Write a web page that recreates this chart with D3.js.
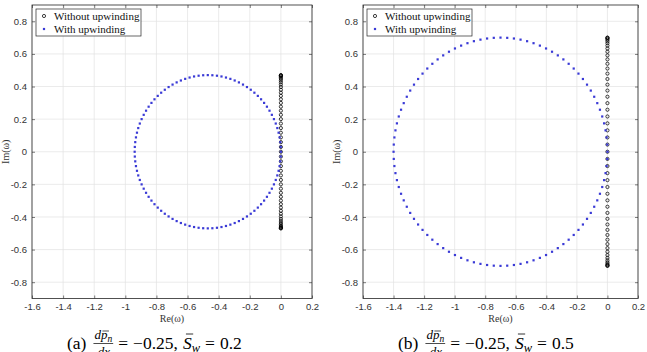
<!DOCTYPE html>
<html><head>
<meta charset="utf-8">
<script src="https://d3js.org/d3.v7.min.js"></script>
<style>
  body { margin: 0; background: #fff; }
  .tick text { font-family: "Liberation Sans", Arial, sans-serif; font-size: 9.5px; fill: #333; }
  .lbl { font-family: "Liberation Serif", serif; }
</style>
</head><body>
<script>
// ---- data ----
var xTicks = [-1.6, -1.4, -1.2, -1, -0.8, -0.6, -0.4, -0.2, 0, 0.2];
var yTicks = [-0.8, -0.6, -0.4, -0.2, 0, 0.2, 0.4, 0.6, 0.8];
var seriesNames = ["Without upwinding", "With upwinding"];
var panelLabels = ["a", "b"];
var dpdx = "\u22120.25";
var swValues = ["0.2", "0.5"];

// Im(omega) of the eigenvalues without upwinding (all sit on Re = 0)
var noUpwindA = [0.47,0.4691,0.4663,0.4617,0.4552,0.4470,0.4370,0.4253,0.4119,0.3968,0.3802,0.3621,0.3426,0.3217,0.2996,0.2763,0.2518,0.2264,0.2001,0.1730,0.1452,0.1169,0.0881,0.0589,0.0295,0,
  -0.0295,-0.0589,-0.0881,-0.1169,-0.1452,-0.1730,-0.2001,-0.2264,-0.2518,-0.2763,-0.2996,-0.3217,-0.3426,-0.3621,-0.3802,-0.3968,-0.4119,-0.4253,-0.4370,-0.4470,-0.4552,-0.4617,-0.4663,-0.4691,-0.47];
var noUpwindB = [0.7,0.6986,0.6945,0.6876,0.6780,0.6658,0.6509,0.6334,0.6134,0.5910,0.5663,0.5394,0.5103,0.4792,0.4462,0.4115,0.3751,0.3373,0.2981,0.2577,0.2163,0.1741,0.1312,0.0877,0.0440,0,
  -0.0440,-0.0877,-0.1312,-0.1741,-0.2163,-0.2577,-0.2981,-0.3373,-0.3751,-0.4115,-0.4462,-0.4792,-0.5103,-0.5394,-0.5663,-0.5910,-0.6134,-0.6334,-0.6509,-0.6658,-0.6780,-0.6876,-0.6945,-0.6986,-0.7];

// [Re, Im] of the eigenvalues with upwinding
var upwindA = [[0,0],[-0.0009,0.0295],[-0.0037,0.0589],[-0.0083,0.0881],[-0.0148,0.1169],[-0.0230,0.1452],[-0.0330,0.1730],[-0.0447,0.2001],[-0.0581,0.2264],[-0.0732,0.2518],[-0.0898,0.2763],[-0.1079,0.2996],[-0.1274,0.3217],[-0.1483,0.3426],[-0.1704,0.3621],[-0.1937,0.3802],[-0.2182,0.3968],[-0.2436,0.4119],[-0.2699,0.4253],[-0.2970,0.4370],[-0.3248,0.4470],[-0.3531,0.4552],[-0.3819,0.4617],[-0.4111,0.4663],[-0.4405,0.4691],[-0.47,0.47],
  [-0.4995,0.4691],[-0.5289,0.4663],[-0.5581,0.4617],[-0.5869,0.4552],[-0.6152,0.4470],[-0.6430,0.4370],[-0.6701,0.4253],[-0.6964,0.4119],[-0.7218,0.3968],[-0.7463,0.3802],[-0.7696,0.3621],[-0.7917,0.3426],[-0.8126,0.3217],[-0.8321,0.2996],[-0.8502,0.2763],[-0.8668,0.2518],[-0.8819,0.2264],[-0.8953,0.2001],[-0.9070,0.1730],[-0.9170,0.1452],[-0.9252,0.1169],[-0.9317,0.0881],[-0.9363,0.0589],[-0.9391,0.0295],[-0.94,0],
  [-0.9391,-0.0295],[-0.9363,-0.0589],[-0.9317,-0.0881],[-0.9252,-0.1169],[-0.9170,-0.1452],[-0.9070,-0.1730],[-0.8953,-0.2001],[-0.8819,-0.2264],[-0.8668,-0.2518],[-0.8502,-0.2763],[-0.8321,-0.2996],[-0.8126,-0.3217],[-0.7917,-0.3426],[-0.7696,-0.3621],[-0.7463,-0.3802],[-0.7218,-0.3968],[-0.6964,-0.4119],[-0.6701,-0.4253],[-0.6430,-0.4370],[-0.6152,-0.4470],[-0.5869,-0.4552],[-0.5581,-0.4617],[-0.5289,-0.4663],[-0.4995,-0.4691],[-0.47,-0.47],
  [-0.4405,-0.4691],[-0.4111,-0.4663],[-0.3819,-0.4617],[-0.3531,-0.4552],[-0.3248,-0.4470],[-0.2970,-0.4370],[-0.2699,-0.4253],[-0.2436,-0.4119],[-0.2182,-0.3968],[-0.1937,-0.3802],[-0.1704,-0.3621],[-0.1483,-0.3426],[-0.1274,-0.3217],[-0.1079,-0.2996],[-0.0898,-0.2763],[-0.0732,-0.2518],[-0.0581,-0.2264],[-0.0447,-0.2001],[-0.0330,-0.1730],[-0.0230,-0.1452],[-0.0148,-0.1169],[-0.0083,-0.0881],[-0.0037,-0.0589],[-0.0009,-0.0295]];
var upwindB = [[0,0],[-0.0014,0.0440],[-0.0055,0.0877],[-0.0124,0.1312],[-0.0220,0.1741],[-0.0342,0.2163],[-0.0491,0.2577],[-0.0666,0.2981],[-0.0866,0.3373],[-0.1090,0.3751],[-0.1337,0.4115],[-0.1606,0.4462],[-0.1897,0.4792],[-0.2208,0.5103],[-0.2538,0.5394],[-0.2885,0.5663],[-0.3249,0.5910],[-0.3627,0.6134],[-0.4019,0.6334],[-0.4423,0.6509],[-0.4837,0.6658],[-0.5259,0.6780],[-0.5688,0.6876],[-0.6123,0.6945],[-0.6560,0.6986],[-0.7,0.7],
  [-0.7440,0.6986],[-0.7877,0.6945],[-0.8312,0.6876],[-0.8741,0.6780],[-0.9163,0.6658],[-0.9577,0.6509],[-0.9981,0.6334],[-1.0373,0.6134],[-1.0751,0.5910],[-1.1115,0.5663],[-1.1462,0.5394],[-1.1792,0.5103],[-1.2103,0.4792],[-1.2394,0.4462],[-1.2663,0.4115],[-1.2910,0.3751],[-1.3134,0.3373],[-1.3334,0.2981],[-1.3509,0.2577],[-1.3658,0.2163],[-1.3780,0.1741],[-1.3876,0.1312],[-1.3945,0.0877],[-1.3986,0.0440],[-1.4,0],
  [-1.3986,-0.0440],[-1.3945,-0.0877],[-1.3876,-0.1312],[-1.3780,-0.1741],[-1.3658,-0.2163],[-1.3509,-0.2577],[-1.3334,-0.2981],[-1.3134,-0.3373],[-1.2910,-0.3751],[-1.2663,-0.4115],[-1.2394,-0.4462],[-1.2103,-0.4792],[-1.1792,-0.5103],[-1.1462,-0.5394],[-1.1115,-0.5663],[-1.0751,-0.5910],[-1.0373,-0.6134],[-0.9981,-0.6334],[-0.9577,-0.6509],[-0.9163,-0.6658],[-0.8741,-0.6780],[-0.8312,-0.6876],[-0.7877,-0.6945],[-0.7440,-0.6986],[-0.7,-0.7],
  [-0.6560,-0.6986],[-0.6123,-0.6945],[-0.5688,-0.6876],[-0.5259,-0.6780],[-0.4837,-0.6658],[-0.4423,-0.6509],[-0.4019,-0.6334],[-0.3627,-0.6134],[-0.3249,-0.5910],[-0.2885,-0.5663],[-0.2538,-0.5394],[-0.2208,-0.5103],[-0.1897,-0.4792],[-0.1606,-0.4462],[-0.1337,-0.4115],[-0.1090,-0.3751],[-0.0866,-0.3373],[-0.0666,-0.2981],[-0.0491,-0.2577],[-0.0342,-0.2163],[-0.0220,-0.1741],[-0.0124,-0.1312],[-0.0055,-0.0877],[-0.0014,-0.0440]];

var noUpwind = [noUpwindA, noUpwindB];
var upwind = [upwindA, upwindB];

// ---- layout ----
var width = 647, height = 352;
var plotTop = 5, plotBottom = 298.5;
var panels = [{left: 32, right: 312}, {left: 363, right: 638}];

var svg = d3.select("body").append("svg")
    .attr("width", width)
    .attr("height", height);

function fmt(d) {
    return d === 0 ? "0" : String(+d.toFixed(1));
}

function drawPanel(i) {
    var p = panels[i];
    var x = d3.scaleLinear().domain([-1.6, 0.2]).range([p.left, p.right]);
    var y = d3.scaleLinear().domain([-0.9, 0.9]).range([plotBottom, plotTop]);
    var g = svg.append("g");

    // grid
    g.selectAll(".gx").data(xTicks).enter().append("line")
        .attr("x1", d => x(d)).attr("x2", d => x(d))
        .attr("y1", plotTop).attr("y2", plotBottom)
        .attr("stroke", "#e3e3e3").attr("stroke-width", 0.7);
    g.selectAll(".gy").data(yTicks).enter().append("line")
        .attr("x1", p.left).attr("x2", p.right)
        .attr("y1", d => y(d)).attr("y2", d => y(d))
        .attr("stroke", "#e3e3e3").attr("stroke-width", 0.7);

    // axes, MATLAB style: ticks inside, mirrored
    g.append("g").attr("transform", "translate(0," + plotBottom + ")")
        .call(d3.axisBottom(x).tickValues(xTicks).tickFormat(fmt).tickSize(-3).tickSizeOuter(0).tickPadding(5));
    g.append("g").attr("transform", "translate(0," + plotTop + ")")
        .call(d3.axisTop(x).tickValues(xTicks).tickFormat("").tickSize(-3).tickSizeOuter(0));
    g.append("g").attr("transform", "translate(" + p.left + ",0)")
        .call(d3.axisLeft(y).tickValues(yTicks).tickFormat(fmt).tickSize(-3).tickSizeOuter(0).tickPadding(5));
    g.append("g").attr("transform", "translate(" + p.right + ",0)")
        .call(d3.axisRight(y).tickValues(yTicks).tickFormat("").tickSize(-3).tickSizeOuter(0));
    g.selectAll(".domain").remove();
    g.selectAll(".tick line").attr("stroke", "#262626").attr("stroke-width", 0.6);

    g.append("rect")
        .attr("x", p.left).attr("y", plotTop)
        .attr("width", p.right - p.left).attr("height", plotBottom - plotTop)
        .attr("fill", "none").attr("stroke", "#262626").attr("stroke-width", 0.8);

    // without upwinding: black circles
    g.append("g").selectAll("circle").data(noUpwind[i]).enter().append("circle")
        .attr("cx", x(0)).attr("cy", d => y(d)).attr("r", 1.6)
        .attr("fill", "none").attr("stroke", "#000").attr("stroke-width", 0.75);

    // with upwinding: blue x markers (tiny, render as squares)
    g.append("g").selectAll("rect").data(upwind[i]).enter().append("rect")
        .attr("x", d => x(d[0]) - 1.1).attr("y", d => y(d[1]) - 1.1)
        .attr("width", 2.2).attr("height", 2.2)
        .attr("fill", "#3a3ad6");

    // axis labels
    g.append("text").attr("class", "lbl")
        .attr("x", (p.left + p.right) / 2).attr("y", 322)
        .attr("text-anchor", "middle").attr("font-size", 10).attr("fill", "#333")
        .text("Re(\u03c9)");
    g.append("text").attr("class", "lbl")
        .attr("transform", "translate(" + (p.left - 23) + "," + ((plotTop + plotBottom) / 2) + ") rotate(-90)")
        .attr("text-anchor", "middle").attr("font-size", 10).attr("fill", "#333")
        .text("Im(\u03c9)");

    // legend
    var lx = p.left + 4, ly = 9;
    var leg = g.append("g");
    leg.append("rect").attr("x", lx).attr("y", ly).attr("width", 105).attr("height", 27)
        .attr("fill", "#fff").attr("stroke", "#262626").attr("stroke-width", 0.7);
    leg.append("circle").attr("cx", lx + 8).attr("cy", ly + 7).attr("r", 1.6)
        .attr("fill", "none").attr("stroke", "#000").attr("stroke-width", 0.75);
    leg.append("rect").attr("x", lx + 6.9).attr("y", ly + 18.9).attr("width", 2.2).attr("height", 2.2)
        .attr("fill", "#3a3ad6");
    leg.selectAll("text").data(seriesNames).enter().append("text").attr("class", "lbl")
        .attr("x", lx + 18).attr("y", (d, k) => ly + 11 + k * 13)
        .attr("font-size", 11).attr("fill", "#111")
        .text(d => d);

    caption(p.left + 35, panelLabels[i], swValues[i]);
}

// caption like (a) dp_n/dx = -0.25, S_w = 0.2
function caption(x0, label, sw) {
    var g = svg.append("g").attr("class", "lbl").attr("fill", "#000");
    var x = x0, base = 348.5, fs = 17.5;
    function put(str, opt) {
        opt = opt || {};
        var t = g.append("text").attr("x", x).attr("y", opt.y != null ? opt.y : base)
            .attr("font-size", opt.size || fs)
            .attr("font-style", opt.it ? "italic" : null)
            .text(str);
        var w = t.node().getComputedTextLength();
        var s = x;
        x += w;
        return [s, w];
    }
    put("(" + label + ")");
    x += 8;
    var fStart = x, fs2 = 13, numY = 339;
    put("d", {size: fs2, it: true, y: numY});
    var pp = put("p", {size: fs2, it: true, y: numY});
    g.append("line").attr("x1", pp[0] + 1.5).attr("x2", pp[0] + pp[1] + 1.5)
        .attr("y1", numY - 8).attr("y2", numY - 8).attr("stroke", "#000").attr("stroke-width", 0.7);
    put("n", {size: 9.5, it: true, y: numY + 2.5});
    var fEnd = x + 1;
    g.append("line").attr("x1", fStart - 1).attr("x2", fEnd)
        .attr("y1", 343.5).attr("y2", 343.5).attr("stroke", "#000").attr("stroke-width", 0.7);
    g.append("text").attr("x", (fStart + fEnd) / 2).attr("y", 356)
        .attr("text-anchor", "middle").attr("font-size", fs2).attr("font-style", "italic").text("dx");
    x = fEnd + 5;
    put("=");
    x += 5;
    put(dpdx + ",");
    x += 5;
    var ss = put("S", {it: true});
    g.append("line").attr("x1", ss[0] + 3).attr("x2", ss[0] + ss[1] + 1.5)
        .attr("y1", base - 14.5).attr("y2", base - 14.5).attr("stroke", "#000").attr("stroke-width", 0.8);
    put("w", {size: 12.5, it: true, y: base + 3});
    x += 5;
    put("=");
    x += 5;
    put(sw);
}

drawPanel(0);
drawPanel(1);
</script>
</body></html>
